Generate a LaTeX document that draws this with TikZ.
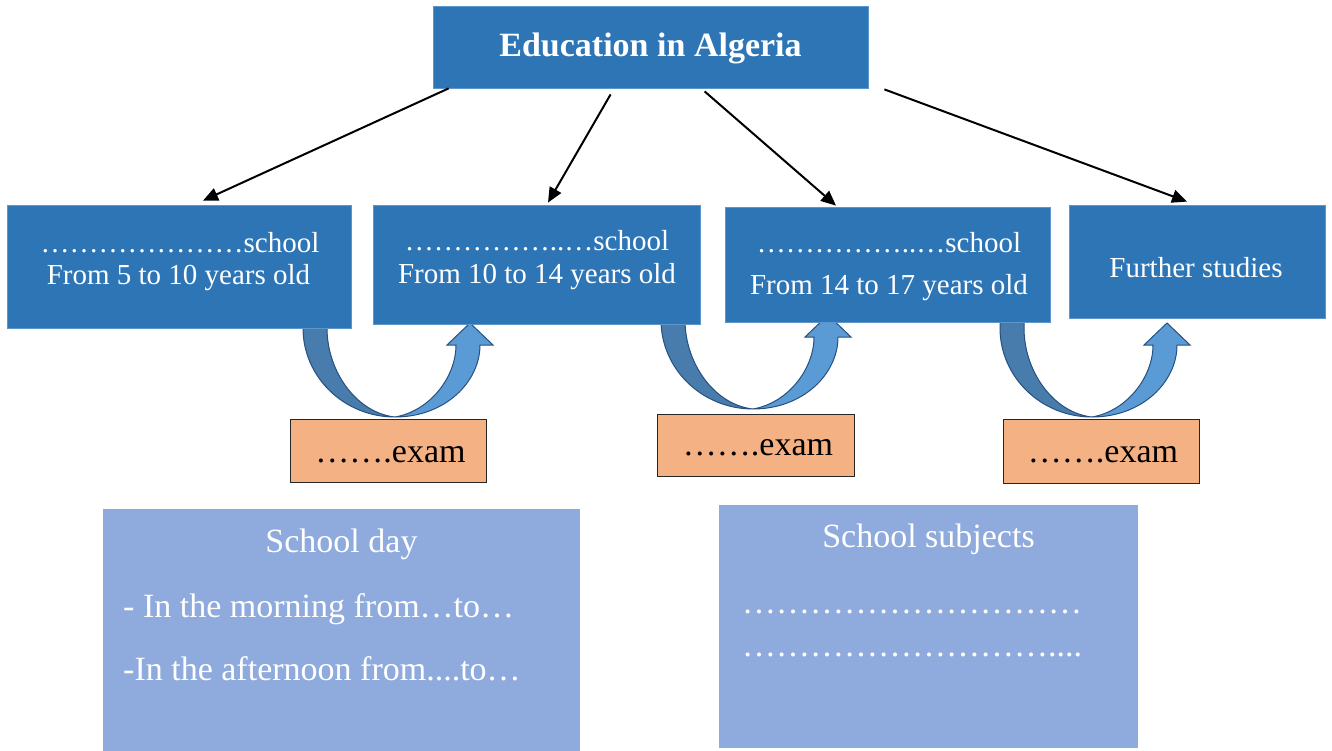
\documentclass[tikz,border=0pt]{standalone}
\usepackage{fontspec}
\setmainfont{Liberation Serif}
\usetikzlibrary{arrows.meta}

\definecolor{boxblue}{RGB}{46,117,182}
\definecolor{boxedge}{RGB}{91,150,205}
\definecolor{bandback}{RGB}{72,124,172}
\definecolor{bandfront}{RGB}{91,155,213}
\definecolor{bandedge}{RGB}{38,80,126}
\definecolor{examfill}{RGB}{244,177,131}
\definecolor{infofill}{RGB}{143,170,220}

\tikzset{
  stage/.style={fill=boxblue, draw=boxedge, line width=0.8pt, inner sep=0pt},
  exambox/.style={fill=examfill, draw=black!85, line width=0.9pt, inner sep=0pt},
  infobox/.style={fill=infofill, inner sep=0pt},
  whitetext/.style={anchor=base, text=white, inner sep=0pt, font=\fontsize{29}{32}\selectfont},
  titletext/.style={anchor=base, text=white, inner sep=0pt, font=\fontsize{34}{40}\selectfont\bfseries},
  examtext/.style={anchor=base, text=black, inner sep=0pt, font=\fontsize{34}{40}\selectfont},
  infotext/.style={text=white, inner sep=0pt, font=\fontsize{34}{40}\selectfont},
  link/.style={-{Triangle[length=15pt,width=13pt]}, line width=2pt, black},
  % U-turn arrow: origin is the lowest point of the bend
  uturn/.pic={
    \filldraw[fill=bandback, draw=bandedge, line width=1pt]
      (-92,-100) -- (-92,-89) .. controls (-92,-40) and (-51,0) .. (0,0)
      .. controls (-38,-4) and (-68,-45) .. (-68,-89) -- (-68,-100) -- cycle;
    \filldraw[fill=bandfront, draw=bandedge, line width=1pt]
      (0,0) .. controls (50,0) and (85,-35) .. (85,-72)
      -- (98,-72) -- (75,-94) -- (52,-72) -- (61,-72)
      .. controls (61,-40) and (35,-6) .. (0,0) -- cycle;
  }
}

\begin{document}
\begin{tikzpicture}[x=1pt,y=-1pt]
\useasboundingbox (0,0) rectangle (1332,751);

% bends between the stages
\pic at (395,417) {uturn};
\pic at (753,409) {uturn};
\pic at (1092,417) {uturn};

% boxes
\node[stage, minimum width=435pt, minimum height=82pt] (title) at (650.5,47) {};
\node[stage, minimum width=344pt, minimum height=123pt] (b1) at (179,266.5) {};
\node[stage, minimum width=327pt, minimum height=119pt] (b2) at (536.5,264.5) {};
\node[stage, minimum width=325pt, minimum height=115pt] (b3) at (887.5,264.5) {};
\node[stage, minimum width=256pt, minimum height=113pt] (b4) at (1197,261.5) {};

\node[exambox, minimum width=196pt, minimum height=63pt] (e1) at (388,450.5) {};
\node[exambox, minimum width=197pt, minimum height=62pt] (e2) at (755.5,445) {};
\node[exambox, minimum width=196pt, minimum height=64pt] (e3) at (1101,451) {};

\node[infobox, minimum width=477pt, minimum height=242pt] (day) at (341.5,630) {};
\node[infobox, minimum width=419pt, minimum height=243pt] (subj) at (928.5,626.5) {};

% texts
\node[titletext] (titlelbl) at (650.5,57) {Education in Algeria};

\node[whitetext] (b1a) at (180,252) {…………………school};
\node[whitetext] (b1b) at (178.5,284) {From 5 to 10 years old};
\node[whitetext] (b2a) at (537,251) {……………..…school};
\node[whitetext] (b2b) at (537,283) {From 10 to 14 years old};
\node[whitetext] (b3a) at (889,253) {……………..…school};
\node[whitetext] (b3b) at (889,294) {From 14 to 17 years old};
\node[whitetext] (b4a) at (1196,277) {Further studies};

\node[examtext] (e1t) at (390.5,462) {…….exam};
\node[examtext] (e2t) at (758,455) {…….exam};
\node[examtext] (e3t) at (1103,462) {…….exam};

\node[infotext, anchor=base] (dayhead) at (341.5,552) {School day};
\node[infotext, anchor=base west] (dayam) at (123,617) {- In the morning from…to…};
\node[infotext, anchor=base west] (daypm) at (123,680) {-In the afternoon from....to…};

\node[infotext, anchor=base] (subjhead) at (928.5,547) {School subjects};
\node[infotext, anchor=base west] (subj1) at (742,613) {…………………………};
\node[infotext, anchor=base west] (subj2) at (742,656) {………………………....};

% links from the title to each stage
\draw[link] ([shift={(16,0)}]title.south west) -- ([shift={(24,-4)}]b1.north);
\draw[link] ([shift={(178,6)}]title.south west) -- ([shift={(11.5,-2)}]b2.north);
\draw[link] ([shift={(272,3)}]title.south west) -- ([shift={(-51.5,-1)}]b3.north);
\draw[link] ([shift={(16,1)}]title.south east) -- ([shift={(-10,-3)}]b4.north);
\end{tikzpicture}
\end{document}
